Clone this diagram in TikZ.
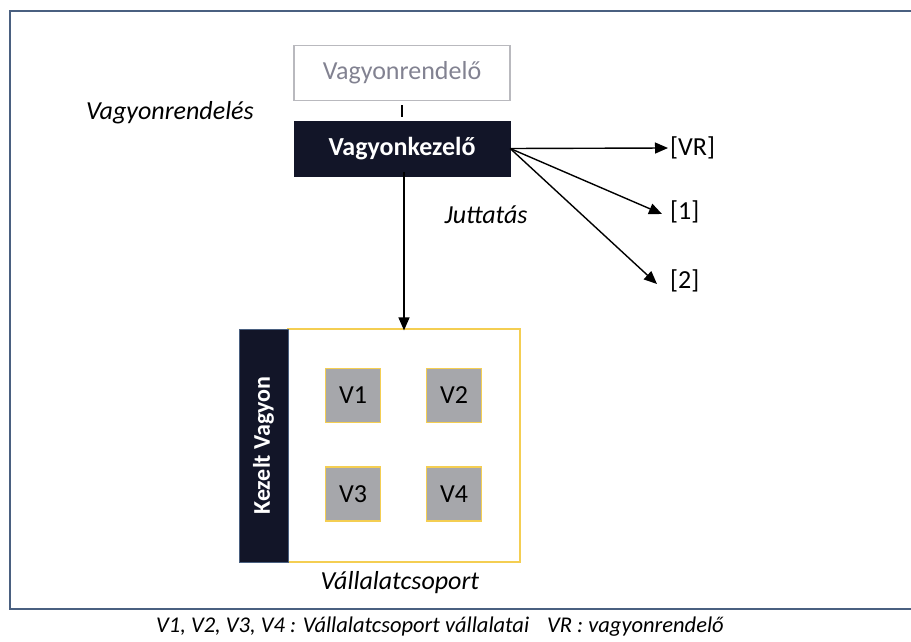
\documentclass[tikz,border=0pt]{standalone}
\usepackage{fontspec}
\setmainfont{Carlito}
\usetikzlibrary{arrows.meta}

\definecolor{navy}{RGB}{18,21,40}
\definecolor{frame}{RGB}{74,96,128}
\definecolor{gold}{RGB}{244,206,82}
\definecolor{boxgray}{RGB}{166,167,171}
\definecolor{softgray}{RGB}{185,185,190}
\definecolor{txtgray}{RGB}{130,130,145}

\newcommand{\bigtxt}{\fontsize{26}{30}\selectfont}

\begin{document}
\begin{tikzpicture}[x=1pt,y=-1pt,
        box/.style={draw,minimum width=216pt,minimum height=55pt,
            inner sep=0pt,font=\bigtxt},
        unit/.style={draw=gold,fill=boxgray,line width=1.4pt,
            minimum width=55pt,minimum height=54pt,inner sep=0pt,font=\bigtxt},
        ref/.style={anchor=west,inner sep=2pt,font=\bigtxt},
        lab/.style={font=\bigtxt\itshape},
        arr/.style={-{Triangle[length=13pt,width=11pt]},line width=1.4pt}]
\useasboundingbox (0,0) rectangle (911,642);
\draw[frame,line width=2.5pt] (10,11) rectangle (930,609);

% owner and manager
\node[box,draw=softgray,line width=1.2pt,text=txtgray] (rendelo) at (402,73) {Vagyonrendelő};
\node[box,fill=navy,draw=navy,text=white,font=\bigtxt\bfseries] (kezelo) at (402,148.5) {Vagyonkezelő};
\draw[line width=1.4pt,shorten <=4pt,shorten >=4pt] (rendelo) -- (kezelo);

\node[lab] (rendeles) at (170,113) {Vagyonrendelés};
\node[lab] (juttatas) at (486,215) {Juttatás};

% beneficiaries
\node[ref] (vr) at (668,148) {[VR]};
\node[ref] (b1) at (668,212) {[1]};
\node[ref] (b2) at (668,281) {[2]};
\coordinate (fan) at (kezelo.east);
\draw[arr] (fan) -- (vr.west);
\draw[arr] (fan) -- ([xshift=-6pt,yshift=-2pt]b1.west);
\draw[arr] (fan) -- ([xshift=-11pt,yshift=-3pt]b2.west);

% managed assets
\node[draw=gold,line width=1.2pt,minimum width=232pt,minimum height=233pt,
    inner sep=0pt] (csoport) at (404,445.5) {};
\node[fill=navy,draw=frame,line width=0.6pt,minimum width=49pt,minimum height=233pt,
    inner sep=0pt] (oldal) at (263.5,445.5) {};
\node[rotate=90,text=white,font=\fontsize{24}{28}\selectfont\bfseries] (kezelt) at (oldal) {Kezelt Vagyon};
\draw[arr] ([yshift=4pt]kezelo.south -| csoport.north) -- ([yshift=-2pt]csoport.north);

\node[unit] (v1) at (353,395.5) {V1};
\node[unit] (v2) at (454,395.5) {V2};
\node[unit] (v3) at (353,494) {V3};
\node[unit] (v4) at (454,494) {V4};

\node[lab] (vallalat) at (400,583) {Vállalatcsoport};

\node[font=\fontsize{22.5}{26}\selectfont\itshape] (jel) at (440,627)
    {V1, V2, V3, V4 : Vállalatcsoport vállalatai\hspace{18pt}VR : vagyonrendelő};
\end{tikzpicture}
\end{document}
